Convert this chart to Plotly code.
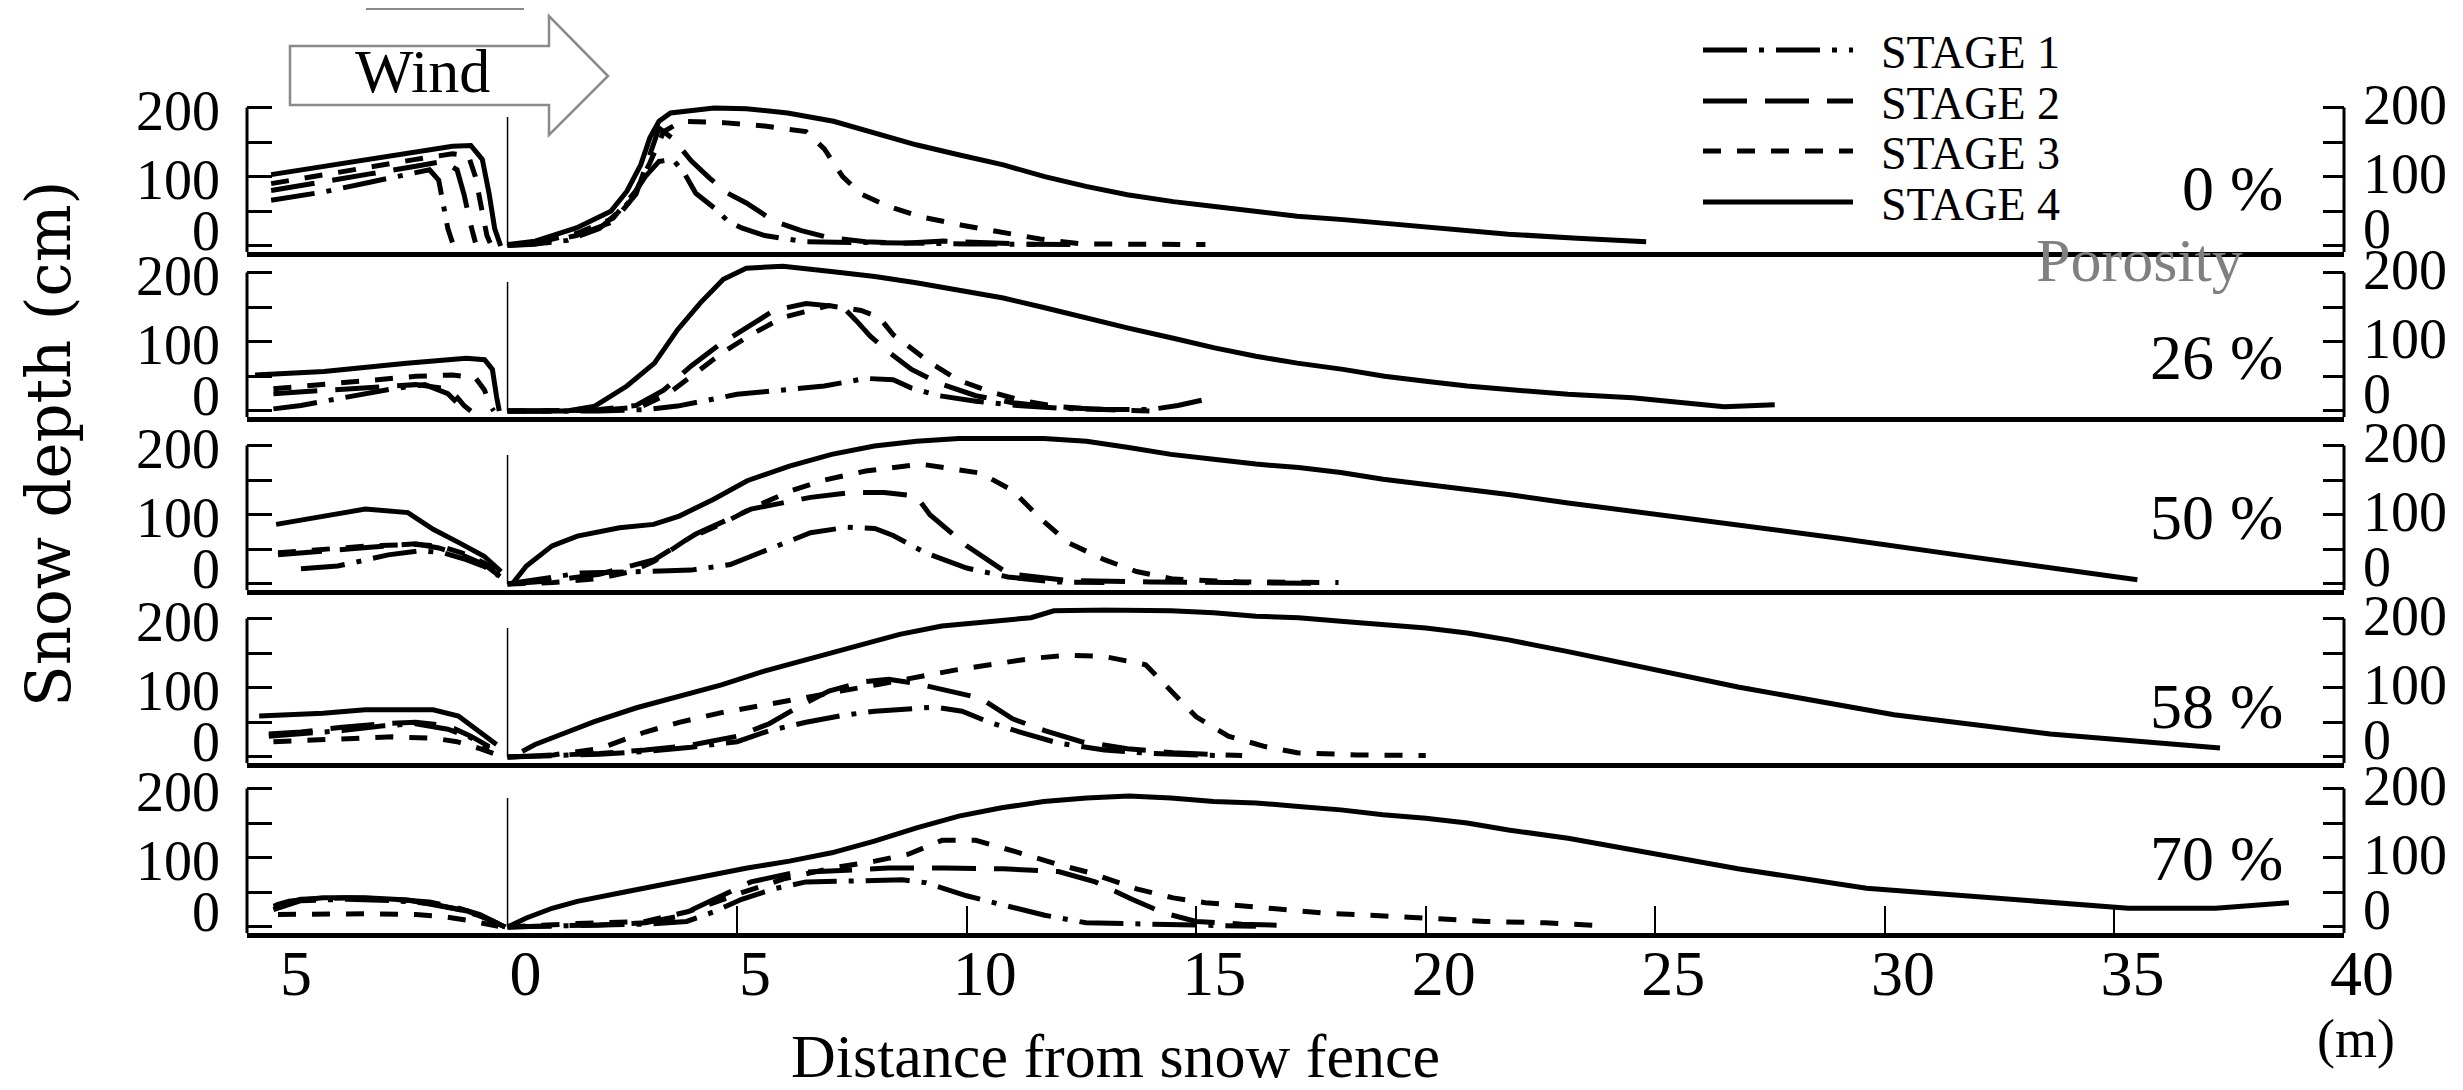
import plotly.graph_objects as go

# ---------------- data (distance m, snow depth cm) ----------------
PANEL_LABELS = ["0 %", "26 %", "50 %", "58 %", "70 %"]
STAGE_NAMES = ["STAGE 1", "STAGE 2", "STAGE 3", "STAGE 4"]
FENCE_HEIGHT = 186
X_TICKVALS = [-5, 0, 5, 10, 15, 20, 25, 30, 35, 40]
X_TICKTEXT = ["5", "0", "5", "10", "15", "20", "25", "30", "35", "40"]
X_MINOR_TICKS = [5, 10, 15, 20, 25, 30, 35]
Y_TICKVALS = [0, 50, 100, 150, 200]
Y_TICKTEXT_UPPER = ["", "", "100", "", "200"]
Y_TICKVALS_ZERO = [0]
Y_TICKTEXT_ZERO = ["0"]

# porosity 0 %
p0_s1_x = [-5.15, -4, -3, -2, -1.7, -1.5, -1.4, -1.3, -1.2, None,
           0, 0.5, 1.3, 2.0, 2.6, 3.0, 3.3, 3.6, 3.85, 4.1, 4.5, 4.8, 5.1, 5.6, 6.5, 8, 10, 12.5]
p0_s1_y = [66, 78, 92, 105, 110, 95, 60, 25, 5, None,
           1, 2, 8, 25, 60, 100, 122, 125, 105, 76, 55, 36, 26, 15, 6, 4, 3, 2]
p0_s2_x = [-5.15, -4, -3, -2, -1.4, -1.1, -0.95, -0.8, -0.7, None,
           0, 0.6, 1.5, 2.3, 2.8, 3.1, 3.3, 3.6, 4.0, 4.4, 4.8, 5.2, 5.8, 6.4, 7.0, 7.8, 8.6, 9.5, 10.5, 11.5]
p0_s2_y = [80, 92, 104, 115, 122, 110, 75, 30, 5, None,
           1, 3, 15, 35, 75, 130, 170, 155, 123, 98, 76, 62, 36, 22, 12, 6, 4, 7, 5, 2]
p0_s3_x = [-5.15, -4, -3, -2, -1.2, -0.85, -0.7, -0.55, -0.45, -0.35, None,
           0, 0.6, 1.5, 2.3, 2.8, 3.1, 3.4, 3.8, 4.7, 5.6, 6.5, 6.9, 7.3, 7.7, 8.3, 9.0, 9.9, 10.7, 11.6, 12.5, 15.2]
p0_s3_y = [90, 103, 115, 125, 133, 130, 100, 50, 15, 0, None,
           1, 4, 18, 40, 80, 120, 165, 180, 178, 173, 165, 140, 100, 75, 57, 42, 30, 20, 10, 3, 2]
p0_s4_x = [-5.15, -4, -3, -2, -1.2, -0.8, -0.55, -0.4, -0.28, -0.15, None,
           0, 0.6, 1.5, 2.25, 2.6, 2.9, 3.1, 3.3, 3.55, 4.5, 5.2, 6.1, 7.1, 8, 8.9, 9.8, 10.8, 11.7, 12.6,
           13.5, 14.5, 15.4, 16.3, 17.2, 18.2, 20, 21.8, 23.3, 24.8]
p0_s4_y = [103, 115, 127, 137, 144, 145, 125, 75, 25, 0, None,
           2, 7, 26, 50, 79, 117, 156, 180, 192, 199, 198, 192, 180, 163, 146, 132, 117, 100, 86,
           74, 64, 57, 50, 43, 38, 28, 17, 11, 6]

# porosity 26 %
p26_s1_x = [-5.1, -4.5, -3.5, -2.5, -1.8, -1.3, -1.0, None,
            0, 2, 3, 3.7, 5, 6, 6.9, 7.8, 8.4, 8.8, 9.4, 10.2, 11.1, 12, 13, 14, 14.6, 15.3]
p26_s1_y = [3, 8, 20, 32, 38, 25, 5, None,
            0, 0, 2, 7, 24, 31, 36, 47, 45, 33, 22, 14, 8, 4, 2, 2, 8, 18]
p26_s2_x = [-5.1, -4, -3, -2, -1.3, -1.1, -0.95, -0.8, None,
            0, 1, 2, 2.8, 3.4, 4.0, 4.6, 5.2, 5.8, 6.5, 7.3, 7.6, 7.9, 8.3, 8.8, 9.4, 10.2, 11, 12, 13]
p26_s2_y = [25, 30, 35, 38, 32, 20, 8, 0, None,
            0, 0, 2, 8, 30, 65, 95, 120, 145, 155, 150, 130, 108, 85, 60, 40, 22, 12, 5, 2]
p26_s3_x = [-5.1, -4, -3, -2, -1.2, -0.7, -0.5, -0.4, -0.3, None,
            0, 1, 2, 2.9, 3.5, 4.1, 4.7, 5.3, 6.0, 7.0, 7.7, 8.1, 8.4, 8.8, 9.2, 9.8, 10.5, 11.2, 12, 13, 14]
p26_s3_y = [32, 38, 45, 50, 52, 48, 30, 10, 0, None,
            0, 0, 1, 6, 25, 55, 85, 110, 135, 152, 145, 135, 110, 90, 70, 45, 28, 15, 6, 2, 0]
p26_s4_x = [-5.5, -4.0, -2.2, -0.9, -0.5, -0.33, -0.24, -0.18, None,
            0, 1.3, 1.9, 2.6, 3.2, 3.7, 4.2, 4.7, 5.2, 6.0, 7.1, 8, 8.9, 9.8, 10.8, 11.7, 12.6, 13.5, 14.5,
            15.4, 16.3, 17.2, 18.2, 19.1, 20, 20.9, 21.8, 23.1, 24.5, 25.5, 26.5, 27.6]
p26_s4_y = [52, 57, 69, 76, 74, 60, 21, 0, None,
            0, 0, 7, 36, 69, 117, 156, 190, 206, 209, 201, 194, 185, 175, 163, 149, 134, 120, 105,
            91, 79, 69, 60, 50, 43, 36, 31, 24, 19, 12, 6, 9]

# porosity 50 %
p50_s1_x = [-4.5, -3.7, -3.2, -2.6, -1.9, -1.4, -0.9, -0.5, -0.2, None,
            0, 0.5, 1.6, 3, 4, 4.85, 5.7, 6.6, 7.4, 8.0, 8.4, 9.1, 10, 10.9, 11.9, 13]
p50_s1_y = [22, 26, 33, 42, 48, 45, 35, 25, 12, None,
            0, 5, 16, 18, 20, 28, 50, 74, 82, 80, 70, 45, 23, 10, 3, 2]
p50_s2_x = [-5.0, -4, -3, -2, -1.5, -1, -0.5, -0.15, None,
            0, 1, 2, 3.2, 4.1, 5.3, 6.6, 7.5, 8.2, 8.9, 9.2, 10, 10.9, 12.2, 14, 17.6]
p50_s2_y = [42, 48, 53, 58, 52, 42, 28, 10, None,
            0, 5, 14, 35, 72, 108, 125, 132, 132, 127, 100, 55, 15, 5, 3, 1]
p50_s3_x = [-5.0, -4, -3, -2, -1.5, -1, -0.5, -0.15, None,
            0, 1, 2, 2.7, 3.2, 3.9, 4.7, 5.4, 6.2, 6.9, 7.8, 9.0, 10.3, 11.0, 11.6, 12.2, 13.0, 13.7, 14.5, 16, 18.1]
p50_s3_y = [45, 50, 55, 57, 55, 45, 30, 12, None,
            0, 2, 8, 18, 33, 64, 88, 112, 135, 150, 163, 173, 160, 135, 95, 60, 35, 18, 7, 3, 2]
p50_s4_x = [-5.04, -4.02, -3.1, -2.17, -1.62, -1.07, -0.51, -0.14, None,
            0.1, 0.41, 0.97, 1.52, 2.44, 3.18, 3.74, 4.48, 5.22, 6.14, 7.06, 7.99, 8.91, 9.83, 11.68, 12.61,
            13.53, 14.45, 15.38, 16.3, 17.23, 18.15, 19.07, 20, 20.9, 21.8, 23.1, 26, 29, 32, 35.5]
p50_s4_y = [86, 98, 108, 103, 79, 60, 40, 18, None,
            0, 26, 55, 69, 81, 86, 98, 122, 149, 170, 187, 199, 206, 210, 210, 206,
            197, 187, 180, 173, 168, 161, 151, 144, 137, 129, 117, 92, 66, 38, 6]

# porosity 58 %
p58_s1_x = [-5.2, -4.5, -3.6, -2.7, -2, -1.3, -0.8, -0.4, None,
            0, 1, 2, 3, 4, 5, 5.7, 6.5, 7.3, 8.0, 8.7, 9.3, 9.9, 10.5, 11.2, 12, 13, 14, 15.5]
p58_s1_y = [30, 33, 38, 45, 48, 40, 28, 12, None,
            0, 2, 4, 8, 14, 22, 38, 50, 60, 66, 70, 72, 66, 50, 35, 20, 10, 5, 2]
p58_s2_x = [-5.2, -4.5, -3.6, -2.7, -2, -1.3, -0.8, -0.4, None,
            0, 1, 2, 3, 4, 5, 5.7, 6.4, 7.0, 7.7, 8.3, 8.9, 9.6, 10.3, 11, 11.7, 12.5, 13.5, 14.5, 16]
p58_s2_y = [33, 36, 43, 48, 50, 45, 30, 15, None,
            0, 2, 5, 10, 17, 30, 48, 75, 95, 108, 112, 106, 96, 85, 55, 38, 22, 12, 6, 2]
p58_s3_x = [-5.1, -4.3, -3.5, -2.5, -1.6, -1.1, -0.6, -0.3, None,
            0, 1, 2, 3, 3.74, 4.66, 5.6, 6.4, 7.25, 8.1, 8.9, 9.8, 10.6, 11.4, 12.2, 13, 13.9, 14.4, 15, 15.7,
            16.5, 17.2, 18.5, 20]
p58_s3_y = [22, 24, 27, 29, 27, 22, 12, 5, None,
            0, 3, 12, 36, 50, 64, 75, 84, 95, 105, 115, 126, 134, 142, 147, 145, 133, 100, 58, 30,
            15, 6, 3, 2]
p58_s4_x = [-5.41, -4.02, -3.1, -1.62, -1.07, -0.51, -0.24, None,
            0.32, 0.6, 1.15, 1.89, 2.81, 3.74, 4.66, 5.59, 6.51, 7.43, 8.54, 9.46, 10.76, 11.4, 11.9, 13.0,
            14.45, 15.38, 16.3, 17.23, 18.15, 19.07, 20, 20.9, 21.8, 23.1, 26.8, 30.2, 33.6, 37.3]
p58_s4_y = [59, 63, 68, 68, 59, 32, 18, None,
            8, 18, 32, 51, 71, 88, 104, 124, 140, 157, 177, 189, 196, 201, 211, 212,
            211, 208, 203, 201, 196, 191, 186, 179, 169, 152, 101, 61, 33, 13]

# porosity 70 %
p70_s1_x = [-5.1, -4.5, -3.5, -2.5, -1.7, -1.1, -0.6, -0.2, -0.05, None,
            0, 1, 2, 3, 3.9, 4.5, 5.1, 5.8, 6.5, 7.5, 8.6, 9.1, 9.5, 10, 10.9, 11.7, 12.6, 14.4, 16.3]
p70_s1_y = [25, 38, 40, 38, 34, 26, 16, 5, 0, None,
            0, 1, 2, 4, 8, 22, 40, 55, 65, 67, 68, 64, 55, 45, 30, 17, 6, 3, 1]
p70_s2_x = [-5.1, -4.5, -3.5, -2.5, -1.7, -1.1, -0.6, -0.2, -0.05, None,
            0, 1, 2, 3, 3.7, 4.5, 5.3, 6.2, 7.3, 8.3, 9.5, 10.8, 12.0, 12.8, 13.6, 14.3, 15, 16, 17]
p70_s2_y = [30, 40, 42, 40, 36, 28, 18, 6, 0, None,
            0, 1, 3, 6, 15, 40, 65, 78, 82, 85, 85, 84, 80, 65, 40, 20, 8, 4, 2]
p70_s3_x = [-5.0, -4, -3, -2, -1.4, -0.9, -0.5, -0.2, None,
            0, 1.52, 3.0, 3.92, 4.5, 5.12, 6.05, 7.06, 8.0, 8.73, 9.46, 10.2, 11.1, 12.0, 12.7, 13.7, 14.5,
            15.2, 16.1, 17.8, 18.8, 20.2, 21.3, 22.6, 23.8]
p70_s3_y = [18, 19, 19, 18, 15, 10, 5, 1, None,
            0, 5, 8, 22, 35, 50, 70, 85, 95, 105, 125, 125, 108, 90, 78, 55, 42,
            35, 30, 20, 17, 12, 8, 6, 2]
p70_s4_x = [-5.04, -4.76, -4.02, -3.1, -2.17, -1.44, -0.88, -0.42, -0.05, None,
            0, 0.41, 0.97, 1.52, 2.44, 3.37, 4.29, 5.22, 6.14, 7.06, 7.99, 8.91, 9.83, 10.76, 11.68, 12.61,
            13.53, 14.45, 15.38, 16.3, 17.23, 18.15, 19.07, 20, 20.9, 21.8, 23.1, 26.8, 29.6, 32.8, 35.3,
            37.2, 38.8]
p70_s4_y = [32, 37, 42, 42, 39, 30, 23, 11, 0, None,
            0, 13, 27, 37, 49, 61, 73, 85, 95, 107, 124, 143, 160, 172, 181, 186,
            189, 186, 181, 179, 174, 169, 162, 157, 150, 140, 128, 84, 56, 39, 27,
            27, 35]

PANELS = [
    [(p0_s1_x, p0_s1_y), (p0_s2_x, p0_s2_y), (p0_s3_x, p0_s3_y), (p0_s4_x, p0_s4_y)],
    [(p26_s1_x, p26_s1_y), (p26_s2_x, p26_s2_y), (p26_s3_x, p26_s3_y), (p26_s4_x, p26_s4_y)],
    [(p50_s1_x, p50_s1_y), (p50_s2_x, p50_s2_y), (p50_s3_x, p50_s3_y), (p50_s4_x, p50_s4_y)],
    [(p58_s1_x, p58_s1_y), (p58_s2_x, p58_s2_y), (p58_s3_x, p58_s3_y), (p58_s4_x, p58_s4_y)],
    [(p70_s1_x, p70_s1_y), (p70_s2_x, p70_s2_y), (p70_s3_x, p70_s3_y), (p70_s4_x, p70_s4_y)],
]

# ---------------- styling / layout ----------------
W, H = 2463, 1090
FONT = "Liberation Serif"
DASHES = ["44px,12px,5px,12px", "44px,18px", "18px,16px", "solid"]
LINE_W = 5
X_RANGE = [-5.675, 40]
Y_RANGE = [-9, 216]
# pixel rows: (bottom, top) of each panel's plotting area
PANEL_PX = [(244.2, 88.3), (409.2, 253.3), (582.2, 426.3), (755.2, 599.3), (925.2, 769.3)]
X_DOMAIN = [239 / W, 2336 / W]
LEGEND_ROWS_PX = [42, 93, 143, 194]
LEGEND_KEYS = ["legend", "legend2", "legend3", "legend4"]
# label shifts (px, screen-down positive) mimicking the squeezed labels of the original
SHIFT_LEFT_UPPER, SHIFT_LEFT_ZERO = 3, -16
SHIFT_RIGHT_UPPER, SHIFT_RIGHT_ZERO = -3, -18


def ax_name(prefix, n):
    return prefix if n == 1 else f"{prefix}{n}"


fig = go.Figure()
for i, panel in enumerate(PANELS):
    xa = ax_name("x", i + 1)
    ya = ax_name("y", i + 1)
    for s, (xs, ys) in enumerate(panel):
        fig.add_trace(go.Scatter(
            x=xs, y=ys, mode="lines", name="\u00a0\u00a0" + STAGE_NAMES[s], xaxis=xa, yaxis=ya,
            showlegend=(i == 0), legend=LEGEND_KEYS[s], connectgaps=False, hoverinfo="skip",
            line=dict(color="black", width=LINE_W, dash=DASHES[s]),
        ))
    # invisible copies so that the overlaying label axes are drawn
    s4x, s4y = panel[3]
    for k in (6, 11, 16):
        fig.add_trace(go.Scatter(
            x=s4x, y=s4y, mode="lines", xaxis=xa, yaxis=ax_name("y", k + i),
            showlegend=False, hoverinfo="skip", opacity=0, line=dict(width=0, color="white"),
        ))

layout = dict(
    width=W, height=H, margin=dict(l=0, r=0, t=0, b=0),
    paper_bgcolor="white", plot_bgcolor="rgba(0,0,0,0)",
    font=dict(family=FONT, color="black"),
    showlegend=True,
)
for key, row in zip(LEGEND_KEYS, LEGEND_ROWS_PX):
    layout[key] = dict(x=1690 / W, y=1 - row / H, xanchor="left", yanchor="middle",
                       font=dict(family=FONT, size=46, color="black"),
                       itemwidth=150, bgcolor="rgba(0,0,0,0)",
                       itemclick=False, itemdoubleclick=False)

shapes = []
annotations = []
for i in range(5):
    b, t = PANEL_PX[i]
    dom = [1 - b / H, 1 - t / H]
    xk = ax_name("xaxis", i + 1)
    xref = ax_name("x", i + 1)
    yref = ax_name("y", i + 1)
    last = (i == 4)
    layout[xk] = dict(
        domain=X_DOMAIN, range=X_RANGE, anchor=yref, showgrid=False, zeroline=False,
        showline=True, linewidth=5, linecolor="black",
        tickmode="array", tickvals=X_TICKVALS, ticktext=X_TICKTEXT,
        showticklabels=last, ticks="",
        tickfont=dict(family=FONT, size=64, color="black"),
        ticklabelstandoff=-20, ticklabelshift=18,
        minor=dict(tickmode="array", tickvals=X_MINOR_TICKS,
                   ticks="inside" if last else "", ticklen=27, tickwidth=1.5, tickcolor="black"),
        fixedrange=True, automargin=False,
    )
    if i > 0:
        layout[xk]["matches"] = "x"
    base_y = dict(
        domain=dom, range=Y_RANGE, showgrid=False, zeroline=False, showline=False,
        tickfont=dict(family=FONT, size=56, color="black"),
        fixedrange=True, automargin=False, anchor=xref,
    )
    layout[ax_name("yaxis", i + 1)] = dict(
        base_y, side="left", tickmode="array", tickvals=Y_TICKVALS, ticktext=Y_TICKTEXT_UPPER,
        ticks="inside", ticklen=25, tickwidth=2.5, tickcolor="black",
        ticklabelstandoff=26, ticklabelshift=SHIFT_LEFT_UPPER)
    layout[ax_name("yaxis", 6 + i)] = dict(
        base_y, side="left", overlaying=yref, tickmode="array",
        tickvals=Y_TICKVALS_ZERO, ticktext=Y_TICKTEXT_ZERO, ticks="",
        ticklabelstandoff=26, ticklabelshift=SHIFT_LEFT_ZERO)
    layout[ax_name("yaxis", 11 + i)] = dict(
        base_y, side="right", overlaying=yref, tickmode="array", tickvals=Y_TICKVALS,
        ticktext=Y_TICKTEXT_UPPER, ticks="inside", ticklen=21, tickwidth=2.5, tickcolor="black",
        ticklabelstandoff=18, ticklabelshift=SHIFT_RIGHT_UPPER)
    layout[ax_name("yaxis", 16 + i)] = dict(
        base_y, side="right", overlaying=yref, tickmode="array",
        tickvals=Y_TICKVALS_ZERO, ticktext=Y_TICKTEXT_ZERO, ticks="",
        ticklabelstandoff=18, ticklabelshift=SHIFT_RIGHT_ZERO)
    for xd in (0, 1):
        shapes.append(dict(type="line", xref=f"{xref} domain", yref=yref,
                           x0=xd, x1=xd, y0=Y_RANGE[0], y1=200,
                           line=dict(color="black", width=3)))
    shapes.append(dict(type="line", xref=xref, yref=yref, x0=0, x1=0, y0=0, y1=FENCE_HEIGHT,
                       line=dict(color="black", width=1.5)))

LABEL_Y_PX = [180, 349, 509, 698, 850]
for lab, py in zip(PANEL_LABELS, LABEL_Y_PX):
    annotations.append(dict(text=lab, xref="paper", yref="paper", x=2277 / W, y=1 - py / H,
                            xanchor="right", yanchor="middle", showarrow=False,
                            font=dict(family=FONT, size=64, color="black")))
annotations.append(dict(text="Porosity", xref="paper", yref="paper", x=2131 / W, y=1 - 252 / H,
                        xanchor="center", yanchor="middle", showarrow=False,
                        font=dict(family=FONT, size=62, color="#808080")))
annotations.append(dict(text="Snow depth (cm)", xref="paper", yref="paper", x=40 / W, y=1 - 436 / H,
                        xanchor="center", yanchor="middle", textangle=-90, showarrow=False,
                        font=dict(family="DejaVu Serif", size=61, color="black")))
annotations.append(dict(text="Distance from snow fence", xref="paper", yref="paper",
                        x=1107 / W, y=1 - 1048 / H, xanchor="center", yanchor="middle",
                        showarrow=False, font=dict(family=FONT, size=62, color="black")))
annotations.append(dict(text="(m)", xref="paper", yref="paper", x=2348 / W, y=1 - 1031 / H,
                        xanchor="center", yanchor="middle", showarrow=False,
                        font=dict(family=FONT, size=54, color="black")))
annotations.append(dict(text="Wind", xref="paper", yref="paper", x=414 / W, y=1 - 63 / H,
                        xanchor="center", yanchor="middle", showarrow=False,
                        font=dict(family=FONT, size=62, color="black")))


def P(x, y):
    return f"{x / W:.5f},{1 - y / H:.5f}"


arrow = ("M" + P(282, 38) + " L" + P(541, 38) + " L" + P(541, 8) + " L" + P(600, 68) +
         " L" + P(541, 127) + " L" + P(541, 97) + " L" + P(282, 97) + " Z")
shapes.append(dict(type="path", xref="paper", yref="paper", path=arrow,
                   line=dict(color="#8a8a8a", width=2.5), fillcolor="white", layer="below"))
shapes.append(dict(type="line", xref="paper", yref="paper", x0=358 / W, x1=516 / W,
                   y0=1 - 0.8 / H, y1=1 - 0.8 / H, line=dict(color="#8a8a8a", width=2.5)))
shapes.append(dict(type="rect", xref="paper", yref="paper", x0=2454 / W, x1=1.0, y0=0, y1=1,
                   line=dict(width=0), fillcolor="#4a7fc1"))

layout["shapes"] = shapes
layout["annotations"] = annotations
fig.update_layout(**layout)
fig.write_html("out.html")
